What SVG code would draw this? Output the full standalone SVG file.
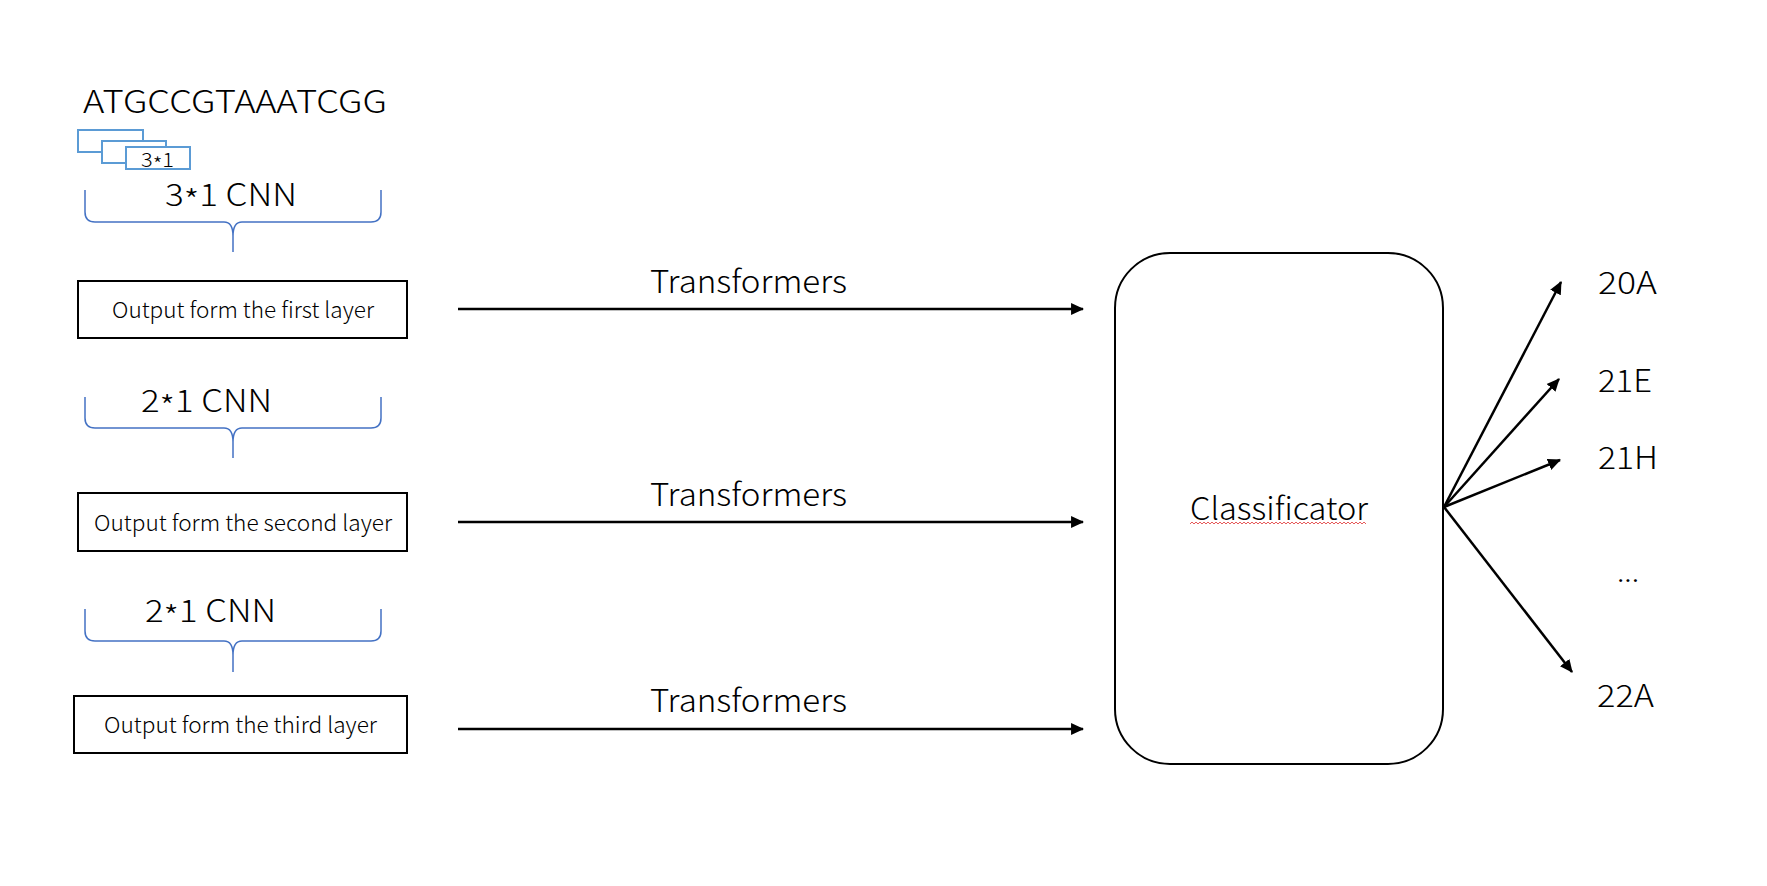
<svg xmlns="http://www.w3.org/2000/svg" width="1767" height="886" viewBox="0 0 1767 886">
<style>
  text { font-family: "Noto Sans CJK SC", "Liberation Sans", sans-serif; font-weight: 300; fill: #000; }
  .big { font-size: 31px; }
  .box { font-size: 22px; }
  .small { font-size: 20px; }
  .dots { font-size: 26px; }
  .layer { fill: #fff; stroke: #000; stroke-width: 2; }
  .kernel { fill: #fff; stroke: #5b9bd5; stroke-width: 2; }
  .brace { fill: none; stroke: #4472c4; stroke-width: 1.5; }
  .conn { fill: none; stroke: #000; stroke-width: 2.5; }
</style>
<defs>
  <marker id="ah" markerUnits="userSpaceOnUse" markerWidth="13" markerHeight="13" viewBox="0 0 12 12" refX="11" refY="6" orient="auto">
    <path d="M0,0.5 L12,6 L0,11.5 Z" fill="#000"/>
  </marker>
</defs>
<rect width="1767" height="886" fill="#fff"/>

<g id="sequence">
  <text class="big" x="83" y="113" textLength="304" lengthAdjust="spacingAndGlyphs">ATGCCGTAAATCGG</text>
  <rect class="kernel" x="78" y="130" width="65" height="22"/>
  <rect class="kernel" x="102" y="141" width="64" height="22"/>
  <rect class="kernel" x="126" y="147" width="64" height="22"/>
  <text class="small" x="141" y="167" textLength="33" lengthAdjust="spacingAndGlyphs">3<tspan dy="5">*</tspan><tspan dy="-5">1</tspan></text>
</g>

<g id="cnn1">
  <text class="big" x="165" y="206" textLength="132" lengthAdjust="spacingAndGlyphs">3<tspan dy="7">*</tspan><tspan dy="-7">1 CNN</tspan></text>
  <path class="brace" d="M85,190 L85,212 Q85,222 95,222 L224,222 Q233,222 233,236 L233,252 M233,236 Q233,222 242,222 L371,222 Q381,222 381,212 L381,190"/>
</g>

<g id="layer1">
  <rect class="layer" x="78" y="281" width="329" height="57"/>
  <text class="box" x="112" y="318" textLength="262" lengthAdjust="spacingAndGlyphs">Output form the first layer</text>
</g>

<g id="cnn2">
  <text class="big" x="141" y="412" textLength="131" lengthAdjust="spacingAndGlyphs">2<tspan dy="7">*</tspan><tspan dy="-7">1 CNN</tspan></text>
  <path class="brace" d="M85,397 L85,418 Q85,428 95,428 L224,428 Q233,428 233,442 L233,458 M233,442 Q233,428 242,428 L371,428 Q381,428 381,418 L381,397"/>
</g>

<g id="layer2">
  <rect class="layer" x="78" y="493" width="329" height="58"/>
  <text class="box" x="94" y="531" textLength="298" lengthAdjust="spacingAndGlyphs">Output form the second layer</text>
</g>

<g id="cnn3">
  <text class="big" x="145" y="622" textLength="131" lengthAdjust="spacingAndGlyphs">2<tspan dy="7">*</tspan><tspan dy="-7">1 CNN</tspan></text>
  <path class="brace" d="M85,609 L85,631 Q85,641 95,641 L224,641 Q233,641 233,655 L233,672 M233,655 Q233,641 242,641 L371,641 Q381,641 381,631 L381,609"/>
</g>

<g id="layer3">
  <rect class="layer" x="74" y="696" width="333" height="57"/>
  <text class="box" x="104" y="733" textLength="273" lengthAdjust="spacingAndGlyphs">Output form the third layer</text>
</g>

<g id="classificator">
  <rect class="layer" x="1115" y="253" width="328" height="511" rx="55" ry="55"/>
  <text class="big" x="1190" y="520" textLength="178" lengthAdjust="spacingAndGlyphs">Classificator</text>
  <path d="M1190,524 l2,-2 l2,2 l2,-2 l2,2 l2,-2 l2,2 l2,-2 l2,2 l2,-2 l2,2 l2,-2 l2,2 l2,-2 l2,2 l2,-2 l2,2 l2,-2 l2,2 l2,-2 l2,2 l2,-2 l2,2 l2,-2 l2,2 l2,-2 l2,2 l2,-2 l2,2 l2,-2 l2,2 l2,-2 l2,2 l2,-2 l2,2 l2,-2 l2,2 l2,-2 l2,2 l2,-2 l2,2 l2,-2 l2,2 l2,-2 l2,2 l2,-2 l2,2 l2,-2 l2,2 l2,-2 l2,2 l2,-2 l2,2 l2,-2 l2,2 l2,-2 l2,2 l2,-2 l2,2 l2,-2 l2,2 l2,-2 l2,2 l2,-2 l2,2 l2,-2 l2,2 l2,-2 l2,2 l2,-2 l2,2 l2,-2 l2,2 l2,-2 l2,2 l2,-2 l2,2 l2,-2 l2,2 l2,-2 l2,2 l2,-2 l2,2 l2,-2 l2,2 l2,-2 l2,2 l2,-2 l2,2" fill="none" stroke="#e03030" stroke-width="0.8"/>
</g>

<g id="labels">
  <text class="big" x="650" y="293" textLength="197" lengthAdjust="spacingAndGlyphs">Transformers</text>
  <text class="big" x="650" y="506" textLength="197" lengthAdjust="spacingAndGlyphs">Transformers</text>
  <text class="big" x="650" y="712" textLength="197" lengthAdjust="spacingAndGlyphs">Transformers</text>
  <text class="big" x="1598" y="294" textLength="59" lengthAdjust="spacingAndGlyphs">20A</text>
  <text class="big" x="1598" y="392" textLength="54" lengthAdjust="spacingAndGlyphs">21E</text>
  <text class="big" x="1598" y="469" textLength="60" lengthAdjust="spacingAndGlyphs">21H</text>
  <text class="dots" x="1617" y="582" textLength="22" lengthAdjust="spacingAndGlyphs">...</text>
  <text class="big" x="1597" y="707" textLength="57" lengthAdjust="spacingAndGlyphs">22A</text>
</g>

<g id="connectors">
  <line class="conn" x1="458" y1="309" x2="1083" y2="309" marker-end="url(#ah)"/>
  <line class="conn" x1="458" y1="522" x2="1083" y2="522" marker-end="url(#ah)"/>
  <line class="conn" x1="458" y1="729" x2="1083" y2="729" marker-end="url(#ah)"/>
  <line class="conn" x1="1444" y1="507" x2="1561" y2="282" marker-end="url(#ah)"/>
  <line class="conn" x1="1444" y1="507" x2="1559" y2="379" marker-end="url(#ah)"/>
  <line class="conn" x1="1444" y1="507" x2="1560" y2="460" marker-end="url(#ah)"/>
  <line class="conn" x1="1444" y1="507" x2="1572" y2="672" marker-end="url(#ah)"/>
</g>
</svg>
